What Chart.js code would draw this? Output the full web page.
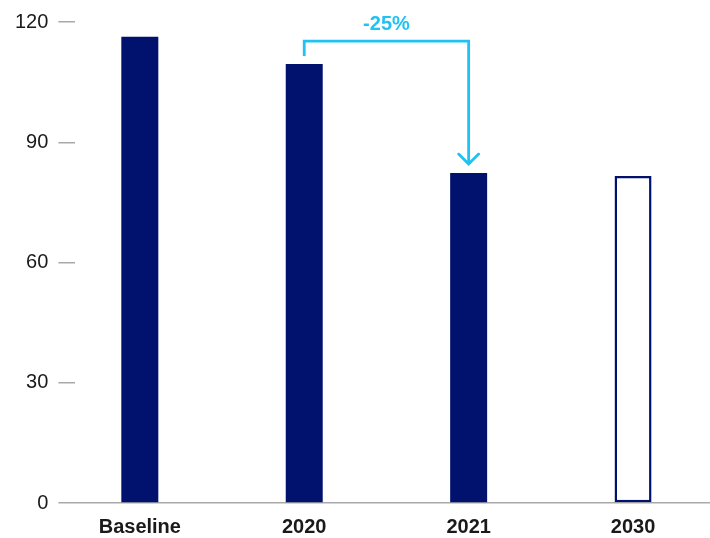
<!DOCTYPE html>
<html>
<head>
<meta charset="utf-8">
<script src="https://cdn.jsdelivr.net/npm/chart.js@4/dist/chart.umd.min.js"></script>
<style>
  html, body { margin: 0; padding: 0; background: #ffffff; }
  #wrap { width: 710px; height: 538px; position: relative; }
</style>
</head>
<body>
<div id="wrap"><canvas id="chart"></canvas></div>
<script>
// Emissions by period
const categories = ['Baseline', '2020', '2021', '2030'];
const values = [116.3, 109.5, 82.3, 81.6];
const isTarget = [false, false, false, true];
const yTicks = [0, 30, 60, 90, 120];

const NAVY = '#00126E';
const CYAN = '#1EC3F4';
const AXIS_GRAY = '#a9a9a9';
const FONT = '"Liberation Sans", Arial, Helvetica, sans-serif';

// Change from 2020 to 2021, shown on the bracket arrow
const fromIdx = 1, toIdx = 2;
const changePct = Math.round((values[toIdx] / values[fromIdx] - 1) * 100);
const changeLabel = (changePct > 0 ? '+' : '') + changePct + '%';

const points = values.map((v, i) => ({ x: i, y: v }));

const changeArrow = {
  id: 'changeArrow',
  afterDatasetsDraw(chart) {
    const meta = chart.getDatasetMeta(0);
    const a = meta.data[fromIdx], b = meta.data[toIdx];
    const ctx = chart.ctx;
    const topY = a.y - 23;
    const legEnd = a.y - 8;
    const tipY = b.y - 9;
    ctx.save();
    ctx.strokeStyle = CYAN;
    ctx.lineWidth = 2.8;
    ctx.lineJoin = 'miter';
    ctx.lineCap = 'butt';
    ctx.beginPath();
    ctx.moveTo(a.x, legEnd);
    ctx.lineTo(a.x, topY);
    ctx.lineTo(b.x, topY);
    ctx.lineTo(b.x, tipY);
    ctx.stroke();
    ctx.beginPath();
    ctx.lineCap = 'round';
    ctx.moveTo(b.x - 10, tipY - 10);
    ctx.lineTo(b.x, tipY);
    ctx.lineTo(b.x + 10, tipY - 10);
    ctx.stroke();
    ctx.fillStyle = CYAN;
    ctx.font = 'bold 20px ' + FONT;
    ctx.textAlign = 'center';
    ctx.textBaseline = 'alphabetic';
    ctx.fillText(changeLabel, (a.x + b.x) / 2, topY - 11);
    ctx.restore();
  }
};

new Chart(document.getElementById('chart'), {
  type: 'bar',
  data: {
    datasets: [{
      data: points,
      backgroundColor: isTarget.map(t => t ? '#ffffff' : NAVY),
      borderColor: NAVY,
      borderWidth: isTarget.map(t => t ? 2.5 : 0),
      borderSkipped: false,
      categoryPercentage: 1,
      barPercentage: 0.225
    }]
  },
  options: {
    responsive: true,
    maintainAspectRatio: false,
    animation: false,
    layout: { padding: { top: 21, left: 5, right: 0, bottom: 0 } },
    plugins: { legend: { display: false }, tooltip: { enabled: false } },
    scales: {
      x: {
        type: 'linear',
        offset: false,
        min: -0.392,
        max: 3.468,
        afterBuildTicks(scale) {
          scale.ticks = categories.map((_, i) => ({ value: i }));
        },
        afterFit(scale) {
          scale.height = 35;
        },
        ticks: {
          callback: (v) => categories[v],
          color: '#1a1a1a',
          font: { family: FONT, size: 20, weight: 'bold' },
          padding: 12,
          maxRotation: 0,
          autoSkip: false
        },
        grid: { display: false, drawTicks: false, offset: false },
        border: { display: false }
      },
      y: {
        min: 0,
        max: 120,
        afterBuildTicks(scale) {
          scale.ticks = yTicks.map(v => ({ value: v }));
        },
        ticks: {
          color: '#1a1a1a',
          font: { family: FONT, size: 20 },
          padding: 10
        },
        grid: {
          display: true,
          drawOnChartArea: true,
          drawTicks: true,
          tickLength: 17,
          color: (c) => (c.tick && c.tick.value === 0) ? AXIS_GRAY : 'rgba(0,0,0,0)',
          tickColor: AXIS_GRAY,
          lineWidth: 1.5,
          tickWidth: 1.5
        },
        border: { display: false }
      }
    }
  },
  plugins: [changeArrow]
});
</script>
</body>
</html>
